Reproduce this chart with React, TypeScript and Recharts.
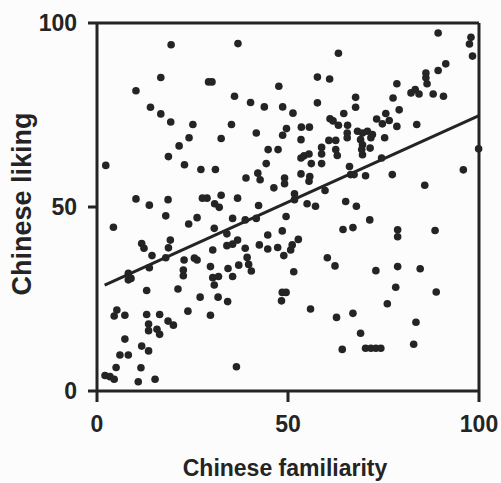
import React from "react";
import { ScatterChart, Scatter, XAxis, YAxis, ReferenceLine } from "recharts";

// each respondent: how familiar they were with Chinese food vs how much they liked it
const familiarity = [
    19.4, 16.7, 29.2, 30.1, 10.2, 14.0, 16.7, 19.3, 25.1, 35.2, 32.5, 24.1, 21.5, 18.7, 2.3, 22.9, 27.2, 31.0, 10.2, 13.7,
    18.6, 27.6, 28.8, 32.5, 30.8, 32.0,
    18.0, 26.2, 24.0, 4.3, 30.7, 11.7, 12.3, 19.2, 18.7, 14.4, 30.3, 18.0, 22.8, 25.5, 26.2, 13.7, 29.7, 22.6, 22.6, 8.2,
    8.9, 8.2, 30.3, 31.8, 30.7, 13.0, 21.2, 27.0, 31.7, 34.2, 5.2, 4.5, 7.3, 13.0, 16.4, 23.8, 29.7, 13.5, 13.5, 15.7,
    16.4, 18.6, 20.0, 7.3, 11.7, 13.5, 6.0, 8.2, 5.0, 11.5, 2.1, 3.4, 4.5, 10.8, 15.2,
    36.9, 63.2, 57.7, 60.9, 47.6, 36.0, 40.2, 43.8, 48.6, 57.7, 51.3, 67.7, 67.7, 64.6, 41.7, 49.6, 48.6, 53.5, 55.6, 53.4,
    61.0, 61.8, 63.2, 65.6, 60.7, 62.5, 65.5, 65.5, 44.8, 47.4, 44.3, 53.4, 54.2, 55.5, 58.8, 58.8, 58.8, 56.1, 62.5, 62.9,
    66.1, 39.0, 42.1, 42.7, 49.1, 49.1, 53.4, 55.7, 55.5, 46.3, 51.7, 51.7, 59.7, 66.4, 67.3, 36.8, 42.3, 55.0, 57.2, 65.1,
    67.9,
    49.5, 35.5, 38.8, 41.7, 64.4, 67.0, 34.0, 48.5, 44.7, 52.7, 34.0, 35.5, 36.8, 42.5, 44.7, 47.3, 51.1, 50.7, 48.9, 38.8,
    39.3, 39.7, 40.4, 60.3, 62.3, 34.3, 35.5, 37.1, 51.5, 48.5, 49.5, 48.3, 55.9, 62.7, 67.0, 64.2, 36.5,
    89.3, 97.9, 97.5, 98.3, 91.3, 89.3, 86.1, 86.1, 86.4, 78.5, 82.2, 83.3, 84.3, 88.0, 90.7, 77.5, 79.1, 75.6, 73.2, 74.7,
    76.5, 78.5, 83.7, 68.2, 69.5, 70.8, 72.1, 69.0, 69.5, 71.7, 75.3, 71.5, 69.3, 69.5, 74.5, 99.9, 95.9, 70.3, 77.3, 85.8,
    71.4, 78.7, 78.7, 88.5, 73.0, 78.7, 84.6, 78.2, 88.8, 76.0, 83.5, 69.0, 70.3, 71.7, 73.0, 74.3, 82.9,
];

const liking = [
    94.1, 85.2, 84.0, 84.0, 81.6, 77.1, 75.3, 73.1, 72.4, 72.4, 68.6, 68.8, 66.6, 63.7, 61.3, 61.5, 60.2, 60.2, 52.2, 50.5,
    52.0, 52.4, 52.4, 53.2, 50.9, 49.9,
    47.6, 47.1, 45.4, 44.5, 44.2, 40.1, 38.8, 41.0, 38.9, 36.8, 38.3, 36.2, 35.6, 36.1, 35.6, 33.5, 33.8, 32.9, 31.3, 32.0,
    30.6, 30.2, 30.8, 31.1, 28.8, 27.3, 27.7, 25.5, 25.5, 24.3, 22.0, 20.4, 20.6, 20.8, 20.8, 21.7, 20.6, 18.2, 16.4, 16.8,
    15.4, 19.0, 17.9, 14.1, 12.2, 10.9, 9.8, 9.8, 6.4, 6.3, 4.2, 3.9, 3.2, 2.5, 3.2,
    94.4, 91.8, 85.3, 84.8, 82.8, 80.1, 78.4, 77.2, 77.2, 78.3, 75.5, 79.8, 77.1, 75.4, 70.1, 71.3, 69.5, 71.7, 71.7, 68.3,
    74.0, 73.4, 72.2, 72.2, 68.1, 68.1, 70.1, 68.8, 65.6, 65.6, 61.8, 63.3, 63.9, 64.4, 66.2, 64.4, 61.8, 61.8, 65.6, 64.0,
    61.0, 57.9, 59.2, 57.4, 57.9, 56.3, 59.0, 58.3, 57.0, 55.2, 53.6, 52.0, 54.5, 58.8, 58.8, 52.4, 50.4, 50.9, 50.2, 51.5,
    50.2,
    47.4, 46.9, 46.5, 46.9, 43.9, 44.4, 42.7, 43.5, 42.4, 41.2, 39.5, 39.9, 41.0, 39.7, 38.6, 39.0, 39.7, 38.3, 36.8, 38.8,
    36.3, 34.4, 32.6, 36.2, 34.0, 33.3, 31.1, 34.2, 32.4, 26.8, 26.8, 24.5, 22.3, 20.0, 21.1, 11.3, 6.6,
    97.3, 96.1, 94.3, 91.0, 88.9, 87.1, 86.4, 85.1, 83.5, 83.5, 81.0, 81.9, 80.7, 80.7, 80.1, 79.6, 76.4, 75.4, 73.9, 72.6,
    73.5, 71.9, 72.4, 70.6, 70.1, 70.6, 69.7, 68.3, 66.9, 68.8, 68.8, 66.0, 65.6, 64.2, 63.3, 65.8, 60.1, 58.5, 58.8, 55.9,
    46.5, 43.8, 41.9, 43.6, 32.7, 33.8, 33.2, 28.2, 26.9, 23.7, 18.7, 15.7, 11.6, 11.6, 11.6, 11.6, 12.7,
];

const axisTicks = [0, 50, 100];

// fitted regression line end points
const fitFamiliarity = [2, 100];
const fitLiking = [28.8, 74.8];

const points = familiarity.map((x, i) => ({ x, y: liking[i] }));

const ink = "#242424";
const font = "'Liberation Sans', Arial, Helvetica, sans-serif";

const tickStyle = { fontSize: 23, fontWeight: "bold", fill: ink, fontFamily: font };

const Dot = (props: any) => <circle cx={props.cx} cy={props.cy} r={3.8} fill={ink} />;

const XTitle = ({ viewBox }: any) => (
    <text
        x={viewBox.x + viewBox.width / 2 - 3}
        y={viewBox.y + 85}
        textAnchor="middle"
        fontSize={23}
        fontWeight="bold"
        fill={ink}
        fontFamily={font}
    >
        Chinese familiarity
    </text>
);

const YTitle = ({ viewBox }: any) => {
    const x = viewBox.x + 22;
    const y = viewBox.y + viewBox.height / 2 - 3;
    return (
        <text
            x={x}
            y={y}
            transform={`rotate(-90, ${x}, ${y})`}
            textAnchor="middle"
            dominantBaseline="central"
            fontSize={27}
            fontWeight="bold"
            fill={ink}
            fontFamily={font}
        >
            Chinese liking
        </text>
    );
};

export default function App() {
    return (
        <div
            style={{
                position: "absolute",
                left: 0,
                top: 0,
                width: 501,
                height: 483,
                background: "#fcfcfc",
                fontFamily: font,
            }}
        >
            <ScatterChart width={501} height={483} margin={{ top: 23, right: 22, bottom: 0, left: 0 }}>
                <XAxis
                    type="number"
                    dataKey="x"
                    domain={[0, 100]}
                    ticks={axisTicks}
                    height={92}
                    tickSize={11}
                    tickMargin={14}
                    axisLine={{ stroke: ink, strokeWidth: 3 }}
                    tickLine={{ stroke: ink, strokeWidth: 3 }}
                    tick={tickStyle}
                    label={<XTitle />}
                />
                <YAxis
                    type="number"
                    dataKey="y"
                    domain={[0, 100]}
                    ticks={axisTicks}
                    width={97}
                    tickSize={9}
                    tickMargin={11}
                    axisLine={{ stroke: ink, strokeWidth: 3 }}
                    tickLine={{ stroke: ink, strokeWidth: 3 }}
                    tick={tickStyle}
                    label={<YTitle />}
                />
                <ReferenceLine y={100} stroke={ink} strokeWidth={3} />
                <ReferenceLine x={100} stroke={ink} strokeWidth={3} />
                <ReferenceLine
                    segment={[
                        { x: fitFamiliarity[0], y: fitLiking[0] },
                        { x: fitFamiliarity[1], y: fitLiking[1] },
                    ]}
                    stroke={ink}
                    strokeWidth={3}
                    ifOverflow="visible"
                />
                <Scatter data={points} shape={Dot} isAnimationActive={false} />
            </ScatterChart>
        </div>
    );
}
